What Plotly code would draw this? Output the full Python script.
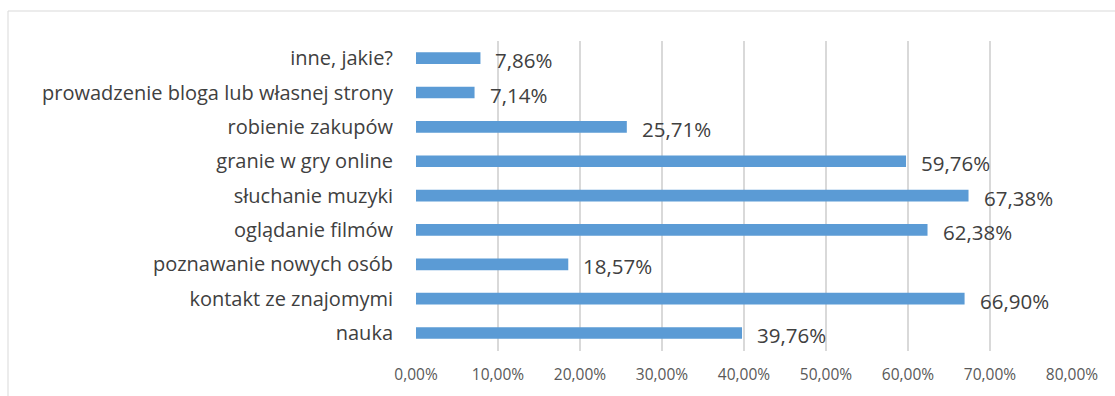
import plotly.graph_objects as go

# Categories listed bottom to top
categories = [
    "nauka",
    "kontakt ze znajomymi",
    "poznawanie nowych osób",
    "oglądanie filmów",
    "słuchanie muzyki",
    "granie w gry online",
    "robienie zakupów",
    "prowadzenie bloga lub własnej strony",
    "inne, jakie?",
]
values = [39.76, 66.90, 18.57, 62.38, 67.38, 59.76, 25.71, 7.14, 7.86]
tick_values = [0, 10, 20, 30, 40, 50, 60, 70, 80]


def pct(v):
    return f"{v:.2f}".replace(".", ",") + "%"


FONT = "Open Sans"
W, H = 1115, 396
L, R, T, B = 416, 43, 41, 45

fig = go.Figure(
    go.Bar(
        x=values,
        y=categories,
        orientation="h",
        marker=dict(color="#5b9bd5", line=dict(width=0)),
        width=0.34,
        hoverinfo="skip",
    )
)

# Value labels to the right of each bar
for cat, v in zip(categories, values):
    fig.add_annotation(
        x=v, y=cat, xref="x", yref="y",
        text=pct(v),
        showarrow=False, xanchor="left", yanchor="middle",
        xshift=13, yshift=-2,
        font=dict(family=FONT, size=20.5, color="#404040"),
    )

pw = W - L - R
ph = H - T - B
# Chart frame
fig.add_shape(
    type="rect", xref="paper", yref="paper",
    x0=(8 - L) / pw, x1=(W + 10 - L) / pw,
    y0=-(H + 10 - T - ph) / ph, y1=(ph + T - 11) / ph,
    line=dict(color="#d9d9d9", width=1), fillcolor="rgba(0,0,0,0)",
    layer="below",
)

fig.update_layout(
    width=W, height=H,
    margin=dict(l=L, r=R, t=T, b=B),
    paper_bgcolor="white", plot_bgcolor="white",
    showlegend=False,
    font=dict(family=FONT, color="#404040"),
    xaxis=dict(
        range=[0, 80],
        tickvals=tick_values,
        ticktext=[pct(t) for t in tick_values],
        showgrid=True, gridcolor="#d9d9d9", gridwidth=1.5,
        zeroline=False, showline=False,
        tickfont=dict(family=FONT, size=15.5, color="#595959"),
        ticks="", ticklabelstandoff=12,
    ),
    yaxis=dict(
        categoryorder="array", categoryarray=categories,
        showgrid=False, zeroline=False, showline=False,
        ticks="", ticklabelstandoff=22,
        tickfont=dict(family=FONT, size=20, color="#404040"),
    ),
)

fig.write_html("out.html")
